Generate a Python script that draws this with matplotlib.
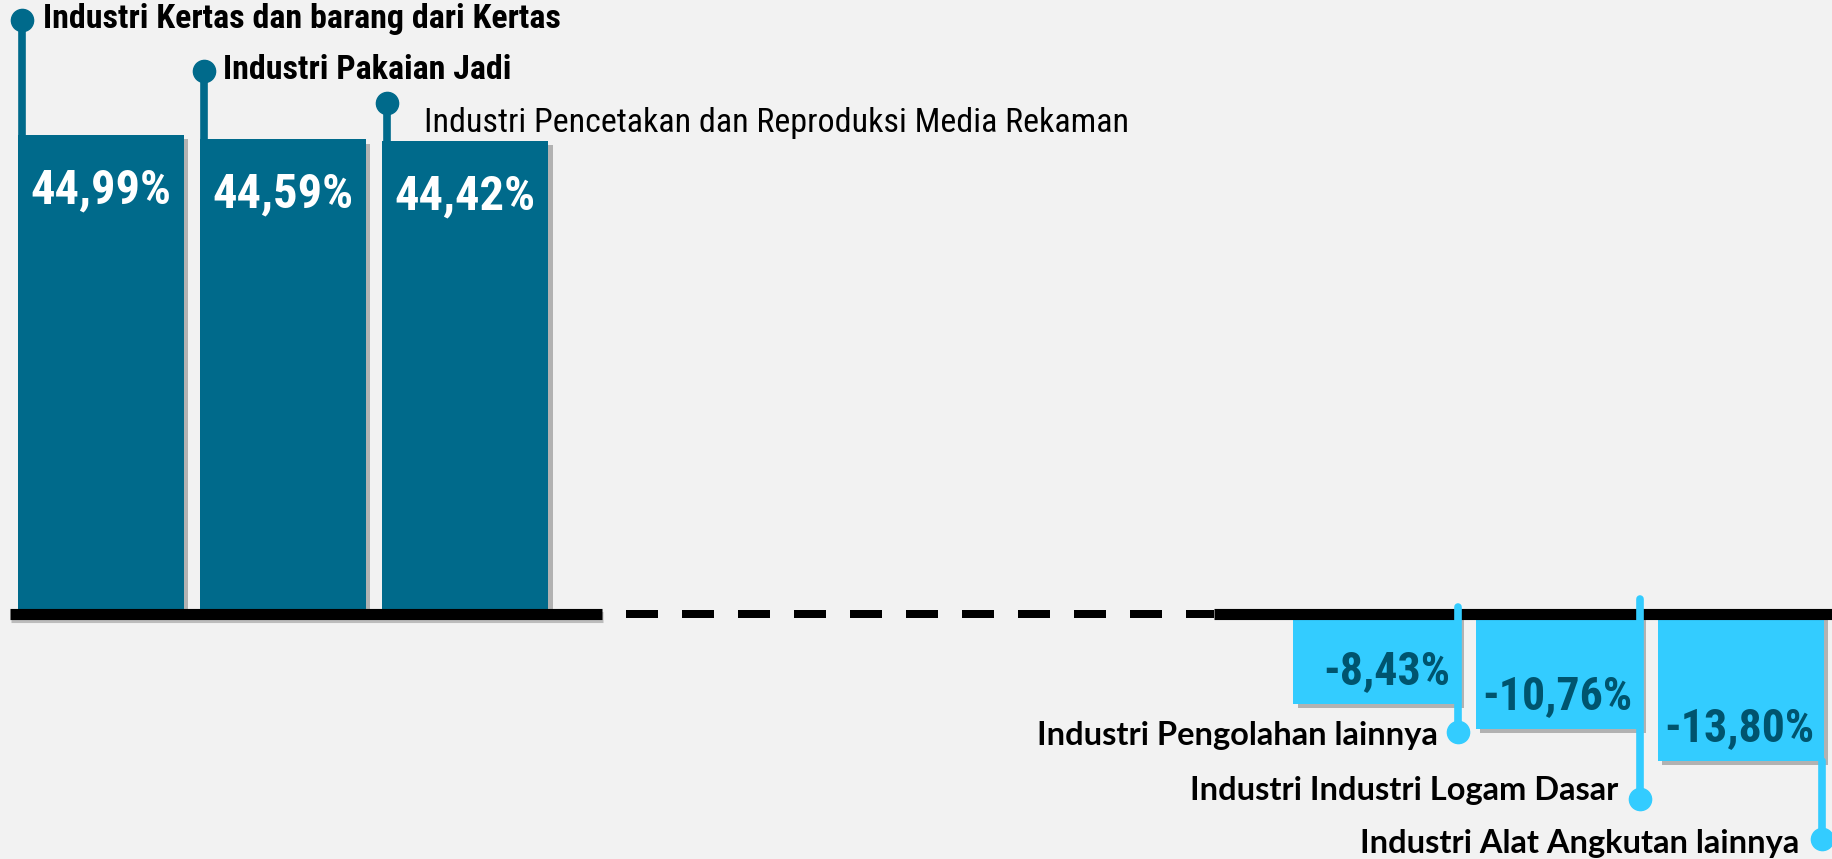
import matplotlib
matplotlib.use("Agg")
import matplotlib.pyplot as plt
import matplotlib.patheffects as pe
from matplotlib import font_manager as fm

# Data
kategori_naik = ["Industri Kertas dan barang dari Kertas",
                 "Industri Pakaian Jadi",
                 "Industri Pencetakan dan Reproduksi Media Rekaman"]
nilai_naik = [44.99, 44.59, 44.42]

kategori_turun = ["Industri Pengolahan lainnya",
                  "Industri Industri Logam Dasar",
                  "Industri Alat Angkutan lainnya"]
nilai_turun = [-8.43, -10.76, -13.80]

# Fonts: cari font sempit yang ada
tersedia = {f.name for f in fm.fontManager.ttflist}
narrow = "Roboto"
for nama in ["Roboto Condensed", "Liberation Sans Narrow", "Open Sans Condensed",
             "Noto Sans Condensed"]:
    if nama in tersedia:
        narrow = nama
        break
sans = "Lato" if "Lato" in tersedia else "DejaVu Sans"

warna_naik = "#006A8B"
warna_turun = "#33CCFF"
warna_teks_turun = "#00546E"
latar = "#F2F2F2"

x_naik = [0, 1, 2]
x_turun = [7, 8, 9]
lebar = 0.911

fig = plt.figure(figsize=(18.32, 8.59), dpi=100, facecolor=latar)
ax = fig.add_axes([0, 0, 1, 1])
ax.set_facecolor(latar)
ax.set_xlim(-0.554, 9.50)
ax.set_ylim(-22.98, 57.68)
ax.axis("off")

bayangan = [pe.SimplePatchShadow(offset=(3, -3), shadow_rgbFace="#7f7f7f", alpha=0.55),
            pe.Normal()]

bar_naik = ax.bar(x_naik, nilai_naik, width=lebar, color=warna_naik, zorder=3)
bar_turun = ax.bar(x_turun, nilai_turun, width=lebar, color=warna_turun, zorder=3)
for b in list(bar_naik) + list(bar_turun):
    b.set_path_effects(bayangan)

def fmt(v):
    return f"{v:.2f}".replace(".", ",") + "%"

# nilai di dalam batang
for x, v in zip(x_naik, nilai_naik):
    ax.text(x, v - 5.2, fmt(v), ha="center", va="center", color="white",
            fontsize=35, fontweight="bold", family=narrow, zorder=5)
for x, v in zip(x_turun, nilai_turun):
    ax.text(x + lebar / 2 - 0.05, v + 3.1, fmt(v), ha="right", va="center",
            color=warna_teks_turun, fontsize=33, fontweight="bold", family=narrow, zorder=5)

# garis dasar: solid - putus-putus - solid
garis_bayangan = [pe.SimpleLineShadow(offset=(1, -2), shadow_color="#888888", alpha=0.5), pe.Normal()]
ax.plot([-0.4995, 2.750], [0, 0], color="black", lw=8, solid_capstyle="butt",
        zorder=4, path_effects=garis_bayangan)
ax.plot([2.881, 6.109], [0, 0], color="black", lw=5.76, dashes=(4, 3),
        dash_capstyle="butt", zorder=4)
ax.plot([6.109, 9.50], [0, 0], color="black", lw=8, solid_capstyle="butt", zorder=4)

# label kategori dengan garis penunjuk
titik_y_naik = [55.8, 51.0, 48.0]
geser_naik = [(15, 0.5), (13.7, 0.5), (26.6, -14.4)]
tebal_naik = ["bold", "bold", "normal"]
for x, v, nama, ty, (dx, dy), w in zip(x_naik, nilai_naik, kategori_naik,
                                        titik_y_naik, geser_naik, tebal_naik):
    lx = x - lebar / 2 + 0.023
    ax.plot([lx, lx], [v, ty], color=warna_naik, lw=5.5, solid_capstyle="butt", zorder=2)
    ax.plot(lx, ty, "o", color=warna_naik, ms=16, zorder=6)
    ax.annotate(nama, (lx, ty), xytext=(dx, dy), textcoords="offset points",
                ha="left", va="center", fontsize=24.5, fontweight=w,
                family=narrow, color="black", zorder=6)

titik_y_turun = [-11.1, -17.3, -21.1]
awal_turun = [0.69, 1.44, None]
geser_turun = [(-14, -2.4), (-15.8, 5.8), (-16.6, -3.3)]
for x, v, nama, ty, y0, (dx, dy) in zip(x_turun, nilai_turun, kategori_turun,
                                         titik_y_turun, awal_turun, geser_turun):
    lx = x + lebar / 2 - 0.01
    if y0 is None:
        y0 = v
    ax.plot([lx, lx], [y0, ty], color=warna_turun, lw=5.5, solid_capstyle="round", zorder=6)
    ax.plot(lx, ty, "o", color=warna_turun, ms=16, zorder=6)
    ax.annotate(nama, (lx, ty), xytext=(dx, dy), textcoords="offset points",
                ha="right", va="center", fontsize=23.5, fontweight="bold",
                family=sans, color="black", zorder=6)

fig.savefig("out.png", dpi=100, facecolor=latar)
